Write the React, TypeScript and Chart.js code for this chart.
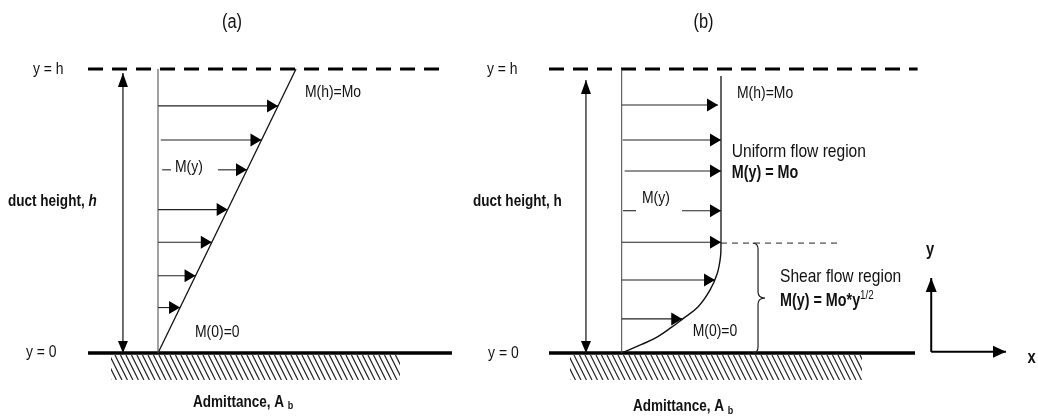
import React, { useEffect, useRef } from 'react';
import { Chart, registerables } from 'chart.js';
Chart.register(...registerables);

// ---------- Panel (a): linear profile, x in units of Mo, y in units of h ----------
const heightsA = [0.87, 0.75, 0.645, 0.505, 0.39, 0.272, 0.16];
const momentsA = [0.87, 0.75, 0.645, 0.505, 0.39, 0.272, 0.16];
const startsA = [0, 0.02, 0.435, 0, 0, 0, 0];
const profileAx = [0, 1];
const profileAy = [0, 1];

// ---------- Panel (b): shear + uniform profile ----------
const heightsB = [0.873, 0.75, 0.641, 0.501, 0.39, 0.257, 0.12];
const momentsB = [0.97, 1, 1, 1, 1, 0.94, 0.61];
const startsB = [0, 0.01, 0.03, 0.607, 0, 0, 0];
const shearCurveX = [0, 0.2, 0.36, 0.5, 0.614, 0.77, 0.89, 0.963, 0.995, 1];
const shearCurveY = [0, 0.03, 0.057, 0.09, 0.12, 0.163, 0.222, 0.281, 0.339, 0.387];
const uniformX = [1, 1];
const uniformY = [0.387, 0.975];
const shearTop = 0.387;

const FONT = '"Liberation Sans", Arial, sans-serif';
const NARROW = 0.82;
const fonts: Record<string, string> = {
  n: `17px ${FONT}`,
  r: `19px ${FONT}`,
  b: `bold 16.5px ${FONT}`,
  b2: `bold 17.5px ${FONT}`,
  bi: `italic bold 16.5px ${FONT}`,
  t: `20px ${FONT}`,
  sub: `bold 11px ${FONT}`,
  sup: `12px ${FONT}`,
  ax: `bold 18px ${FONT}`,
};

type Part = { t: string; f: string; dy?: number };
type Label = { axis: string; x: number; y: number; align?: 'left' | 'center'; parts: Part[] };

const labels: Label[] = [
  { axis: 'xA', x: 0.536, y: 1.164, align: 'center', parts: [{ t: '(a)', f: 't' }] },
  { axis: 'xA', x: -0.906, y: 1.0, parts: [{ t: 'y = h', f: 'n' }] },
  { axis: 'xA', x: -0.957, y: 0.004, parts: [{ t: 'y = 0', f: 'n' }] },
  { axis: 'xA', x: -1.087, y: 0.532, parts: [{ t: 'duct height, ', f: 'b' }, { t: 'h', f: 'bi' }] },
  { axis: 'xA', x: 1.065, y: 0.919, parts: [{ t: 'M(h)=Mo', f: 'n' }] },
  { axis: 'xA', x: 0.123, y: 0.655, parts: [{ t: 'M(y)', f: 'n' }] },
  { axis: 'xA', x: 0.268, y: 0.074, parts: [{ t: 'M(0)=0', f: 'n' }] },
  { axis: 'xA', x: 0.254, y: -0.1725, parts: [{ t: 'Admittance, A ', f: 'b' }, { t: 'b', f: 'sub', dy: 4 }] },

  { axis: 'xB', x: 0.824, y: 1.164, align: 'center', parts: [{ t: '(b)', f: 't' }] },
  { axis: 'xB', x: -1.357, y: 1.0, parts: [{ t: 'y = h', f: 'n' }] },
  { axis: 'xB', x: -1.346, y: 0.0, parts: [{ t: 'y = 0', f: 'n' }] },
  { axis: 'xB', x: -1.497, y: 0.535, parts: [{ t: 'duct height, h', f: 'b' }] },
  { axis: 'xB', x: 1.161, y: 0.915, parts: [{ t: 'M(h)=Mo', f: 'n' }] },
  { axis: 'xB', x: 1.108, y: 0.709, parts: [{ t: 'Uniform flow region', f: 'r' }] },
  { axis: 'xB', x: 1.108, y: 0.633, parts: [{ t: 'M(y) = Mo', f: 'b2' }] },
  { axis: 'xB', x: 0.204, y: 0.546, parts: [{ t: 'M(y)', f: 'n' }] },
  { axis: 'xB', x: 0.715, y: 0.075, parts: [{ t: 'M(0)=0', f: 'n' }] },
  { axis: 'xB', x: 1.594, y: 0.269, parts: [{ t: 'Shear flow region', f: 'r' }] },
  { axis: 'xB', x: 1.594, y: 0.181, parts: [{ t: 'M(y) = Mo*y', f: 'b2' }, { t: '1/2', f: 'sup', dy: -6 }] },
  { axis: 'xB', x: 0.114, y: -0.189, parts: [{ t: 'Admittance, A ', f: 'b' }, { t: 'b', f: 'sub', dy: 4 }] },
  { axis: 'xB', x: 3.105, y: 0.363, align: 'center', parts: [{ t: 'y', f: 'ax' }] },
  { axis: 'xB', x: 4.129, y: -0.019, align: 'center', parts: [{ t: 'x', f: 'ax' }] },
];

type Head = { axis: string; x: number; y: number; dir: 'right' | 'up' | 'down'; len: number; half: number };

const heads: Head[] = [
  ...heightsA.map((h, i) => ({ axis: 'xA', x: momentsA[i], y: h, dir: 'right' as const, len: 11, half: 6.5 })),
  ...heightsB.map((h, i) => ({ axis: 'xB', x: momentsB[i], y: h, dir: 'right' as const, len: 11, half: 6.5 })),
  { axis: 'xA', x: -0.254, y: 0.986, dir: 'up', len: 14, half: 5 },
  { axis: 'xA', x: -0.254, y: 0, dir: 'down', len: 12, half: 5 },
  { axis: 'xB', x: -0.36, y: 0.961, dir: 'up', len: 14, half: 5 },
  { axis: 'xB', x: -0.36, y: 0, dir: 'down', len: 12, half: 5 },
  { axis: 'xB', x: 3.117, y: 0.264, dir: 'up', len: 14, half: 5.5 },
  { axis: 'xB', x: 3.87, y: 0.004, dir: 'right', len: 13, half: 6 },
];

const hatches = [
  { axis: 'xA', x1: -0.341, x2: 1.754, y1: -0.007, y2: -0.095 },
  { axis: 'xB', x1: -0.521, x2: 2.419, y1: -0.007, y2: -0.095 },
];

const brace = { axis: 'xB', x: 1.373, tip: 1.443, hook: 1.32, y1: 0, y2: shearTop };

const line = (axis: string, pts: { x: number; y: number }[], opts: any = {}) => ({
  type: 'scatter',
  xAxisID: axis,
  yAxisID: 'y',
  data: pts,
  showLine: true,
  pointRadius: 0,
  borderColor: '#111',
  borderWidth: 1,
  fill: false,
  tension: 0,
  ...opts,
});

const zip = (xs: number[], ys: number[]) => xs.map((x, i) => ({ x, y: ys[i] }));

const datasets: any[] = [
  // panel a
  line('xA', [{ x: 0, y: 0 }, { x: 0, y: 1 }], { borderColor: '#444', borderWidth: 1 }),
  line('xA', zip(profileAx, profileAy), { borderWidth: 1.3 }),
  ...heightsA.map((h, i) => line('xA', [{ x: startsA[i], y: h }, { x: momentsA[i], y: h }], { borderColor: '#222', borderWidth: 1.1 })),
  line('xA', [{ x: 0.03, y: heightsA[2] }, { x: 0.094, y: heightsA[2] }], { borderColor: '#222', borderWidth: 1.1 }),
  line('xA', [{ x: -0.254, y: 0 }, { x: -0.254, y: 0.986 }], { borderWidth: 1.3, borderColor: '#222' }),
  line('xA', [{ x: -0.507, y: 0 }, { x: 2.13, y: 0 }], { borderWidth: 3.5, borderColor: '#000' }),
  line('xA', [{ x: -0.507, y: 1 }, { x: 2.058, y: 1 }], { borderWidth: 3, borderColor: '#000', borderDash: [15, 9] }),
  // panel b
  line('xB', [{ x: 0, y: 0 }, { x: 0, y: 1 }], { borderColor: '#444', borderWidth: 1 }),
  line('xB', zip(shearCurveX, shearCurveY), { borderWidth: 1.4, tension: 0.4 }),
  line('xB', zip(uniformX, uniformY), { borderWidth: 1.3 }),
  ...heightsB.map((h, i) => line('xB', [{ x: startsB[i], y: h }, { x: momentsB[i], y: h }], { borderColor: '#222', borderWidth: 1.1 })),
  line('xB', [{ x: 0.013, y: heightsB[3] }, { x: 0.144, y: heightsB[3] }], { borderColor: '#222', borderWidth: 1.1 }),
  line('xB', [{ x: 1, y: shearTop }, { x: 2.18, y: shearTop }], { borderColor: '#222', borderWidth: 1, borderDash: [6, 5] }),
  line('xB', [{ x: -0.36, y: 0 }, { x: -0.36, y: 0.961 }], { borderWidth: 1.3, borderColor: '#222' }),
  line('xB', [{ x: -0.732, y: 0 }, { x: 2.954, y: 0 }], { borderWidth: 3.5, borderColor: '#000' }),
  line('xB', [{ x: -0.732, y: 1 }, { x: 2.98, y: 1 }], { borderWidth: 3, borderColor: '#000', borderDash: [15, 9] }),
  // coordinate icon
  line('xB', [{ x: 3.117, y: 0.004 }, { x: 3.117, y: 0.264 }], { borderWidth: 2, borderColor: '#000' }),
  line('xB', [{ x: 3.117, y: 0.004 }, { x: 3.87, y: 0.004 }], { borderWidth: 2, borderColor: '#000' }),
];

const diagramPlugin = {
  id: 'diagram',
  afterDatasetsDraw(chart: any) {
    const ctx: CanvasRenderingContext2D = chart.ctx;
    const px = (axis: string, v: number) => chart.scales[axis].getPixelForValue(v);
    const py = (v: number) => chart.scales.y.getPixelForValue(v);
    ctx.save();

    // hatching
    hatches.forEach((hz) => {
      const x1 = px(hz.axis, hz.x1), x2 = px(hz.axis, hz.x2);
      const y1 = py(hz.y1), y2 = py(hz.y2);
      ctx.save();
      ctx.beginPath();
      ctx.rect(x1, y1, x2 - x1, y2 - y1);
      ctx.clip();
      ctx.strokeStyle = '#222';
      ctx.lineWidth = 1.2;
      const dx = (y2 - y1) * 0.5;
      for (let x = x1 - dx; x < x2; x += 5.5) {
        ctx.beginPath();
        ctx.moveTo(x, y1);
        ctx.lineTo(x + dx, y2);
        ctx.stroke();
      }
      ctx.restore();
    });

    // arrowheads
    ctx.fillStyle = '#000';
    heads.forEach((h) => {
      const x = px(h.axis, h.x), y = py(h.y);
      ctx.beginPath();
      if (h.dir === 'right') {
        ctx.moveTo(x, y);
        ctx.lineTo(x - h.len, y - h.half);
        ctx.lineTo(x - h.len, y + h.half);
      } else if (h.dir === 'up') {
        ctx.moveTo(x, y);
        ctx.lineTo(x - h.half, y + h.len);
        ctx.lineTo(x + h.half, y + h.len);
      } else {
        ctx.moveTo(x, y);
        ctx.lineTo(x - h.half, y - h.len);
        ctx.lineTo(x + h.half, y - h.len);
      }
      ctx.closePath();
      ctx.fill();
    });

    // brace
    {
      const x0 = px(brace.axis, brace.x), xt = px(brace.axis, brace.tip), xh = px(brace.axis, brace.hook);
      const yb = py(brace.y1), yt = py(brace.y2), ym = (yb + yt) / 2;
      ctx.strokeStyle = '#222';
      ctx.lineWidth = 1.2;
      ctx.beginPath();
      ctx.moveTo(xh, yt);
      ctx.quadraticCurveTo(x0, yt, x0, yt + 6);
      ctx.lineTo(x0, ym - 6);
      ctx.quadraticCurveTo(x0, ym, xt, ym);
      ctx.quadraticCurveTo(x0, ym, x0, ym + 6);
      ctx.lineTo(x0, yb - 6);
      ctx.quadraticCurveTo(x0, yb, xh, yb);
      ctx.stroke();
    }

    // labels (Arial-metric font, horizontally condensed like Arial Narrow)
    ctx.fillStyle = '#111';
    ctx.textBaseline = 'middle';
    ctx.textAlign = 'left';
    labels.forEach((lb) => {
      let total = 0;
      lb.parts.forEach((p) => {
        ctx.font = fonts[p.f];
        total += ctx.measureText(p.t).width * NARROW;
      });
      let x = px(lb.axis, lb.x);
      if (lb.align === 'center') x -= total / 2;
      const y = py(lb.y);
      lb.parts.forEach((p) => {
        ctx.font = fonts[p.f];
        ctx.save();
        ctx.translate(x, y + (p.dy || 0));
        ctx.scale(NARROW, 1);
        ctx.fillText(p.t, 0, 0);
        ctx.restore();
        x += ctx.measureText(p.t).width * NARROW;
      });
    });
    ctx.restore();
  },
};

export default function App() {
  const ref = useRef<HTMLCanvasElement>(null);
  useEffect(() => {
    if (!ref.current) return;
    const chart = new Chart(ref.current, {
      type: 'scatter',
      data: { datasets },
      options: {
        animation: false,
        responsive: false,
        devicePixelRatio: 1,
        events: [],
        layout: { padding: 0 },
        plugins: { legend: { display: false }, tooltip: { enabled: false }, title: { display: false } },
        scales: {
          xA: { type: 'linear', display: false, min: -158 / 138, max: (1038 - 158) / 138 },
          xB: { type: 'linear', display: false, min: -621.7 / 99.3, max: (1038 - 621.7) / 99.3 },
          y: { type: 'linear', display: false, min: -64 / 284, max: 353 / 284 },
        },
      },
      plugins: [diagramPlugin],
    } as any);
    return () => chart.destroy();
  }, []);
  return (
    <div style={{ position: 'absolute', left: 0, top: 0, width: 1038, height: 417, background: '#fff' }}>
      <canvas ref={ref} width={1038} height={417} />
    </div>
  );
}
